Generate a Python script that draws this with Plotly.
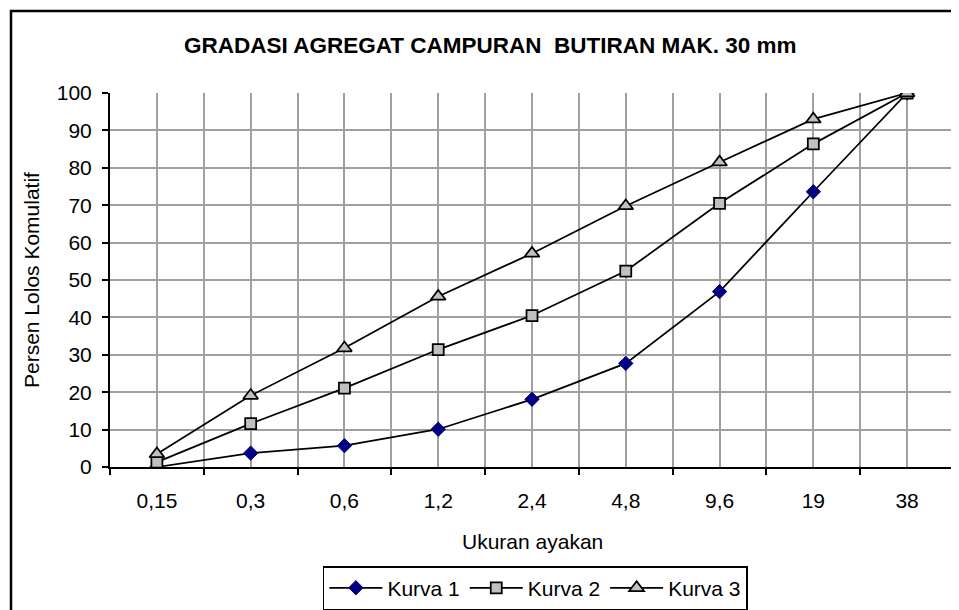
import plotly.graph_objects as go

categories = ["0,15", "0,3", "0,6", "1,2", "2,4", "4,8", "9,6", "19", "38"]
kurva1 = [0.0, 3.7, 5.7, 10.1, 18.1, 27.7, 46.9, 73.6, 100.0]
kurva2 = [1.3, 11.6, 21.1, 31.4, 40.5, 52.4, 70.5, 86.4, 100.0]
kurva3 = [3.5, 19.1, 31.8, 45.6, 57.1, 69.8, 81.5, 93.0, 100.0]
y_ticks = list(range(0, 101, 10))

FONT = "Liberation Sans, Arial, sans-serif"
xs = list(range(len(categories)))
bounds = [i - 0.5 for i in range(len(categories) + 1)]

fig = go.Figure()
fig.add_trace(go.Scatter(
    x=xs, y=kurva1, name="Kurva 1", mode="lines+markers",
    line=dict(color="black", width=1.75),
    marker=dict(symbol="diamond", size=11, color="#000080",
                line=dict(color="#000080", width=1)),
))
fig.add_trace(go.Scatter(
    x=xs, y=kurva2, name="Kurva 2", mode="lines+markers",
    line=dict(color="black", width=1.75),
    marker=dict(symbol="square", size=11, color="#c0c0c0",
                line=dict(color="black", width=1.75)),
))
fig.add_trace(go.Scatter(
    x=xs, y=kurva3, name="Kurva 3", mode="lines+markers",
    line=dict(color="black", width=1.75),
    marker=dict(symbol="triangle-up", size=13, color="#c0c0c0",
                line=dict(color="black", width=1.75)),
))

fig.update_layout(
    width=951, height=602,
    margin=dict(l=102, r=5, t=85, b=143, autoexpand=False),
    paper_bgcolor="white", plot_bgcolor="white",
    font=dict(family=FONT, size=21, color="black"),
    showlegend=True,
    legend=dict(
        orientation="h", x=0.504, xanchor="center", y=-0.265, yanchor="top",
        bordercolor="black", borderwidth=1.5, font=dict(size=21),
        itemwidth=53, tracegroupgap=0,
    ),
    xaxis=dict(
        range=[-0.5, len(categories) - 0.5],
        tickvals=xs, ticktext=categories,
        ticks="outside", ticklen=14, tickcolor="rgba(0,0,0,0)",
        showgrid=True, gridcolor="#a0a0a0", gridwidth=1.5,
        minor=dict(tickvals=bounds, showgrid=True, gridcolor="#a0a0a0",
                   gridwidth=1.5, ticks="outside", ticklen=6,
                   tickcolor="black", tickwidth=1.5),
        showline=True, linecolor="black", linewidth=2,
        zeroline=False, fixedrange=True,
        tickfont=dict(size=21),
    ),
    yaxis=dict(
        range=[0, 100], tickvals=y_ticks,
        ticks="outside", ticklen=6, tickcolor="black", tickwidth=1.5,
        ticklabelstandoff=6,
        showgrid=True, gridcolor="#a0a0a0", gridwidth=1.5,
        showline=True, linecolor="black", linewidth=2,
        zeroline=False, fixedrange=True,
        tickfont=dict(size=21),
    ),
    annotations=[
        dict(text="<b>GRADASI AGREGAT CAMPURAN \u00a0BUTIRAN MAK. 30 mm</b>",
             xref="paper", yref="paper", x=(490 - 110) / 844, y=(467 - 46) / 374,
             xanchor="center", yanchor="middle", showarrow=False,
             font=dict(size=22.5)),
        dict(text="Ukuran ayakan", xref="paper", yref="paper",
             x=0.5, y=(467 - 541) / 374, xanchor="center", yanchor="middle",
             showarrow=False, font=dict(size=21)),
        dict(text="Persen Lolos Komulatif", xref="paper", yref="paper",
             x=(31 - 110) / 844, y=0.5, xanchor="center", yanchor="middle",
             textangle=-90, showarrow=False, font=dict(size=21)),
    ],
    shapes=[
        dict(type="rect", xref="paper", yref="paper",
             x0=(11 - 110) / 844, x1=1.2, y0=-1.0, y1=(467 - 11) / 374,
             line=dict(color="black", width=2.5), layer="below"),
    ],
)

fig.write_html("out.html")
